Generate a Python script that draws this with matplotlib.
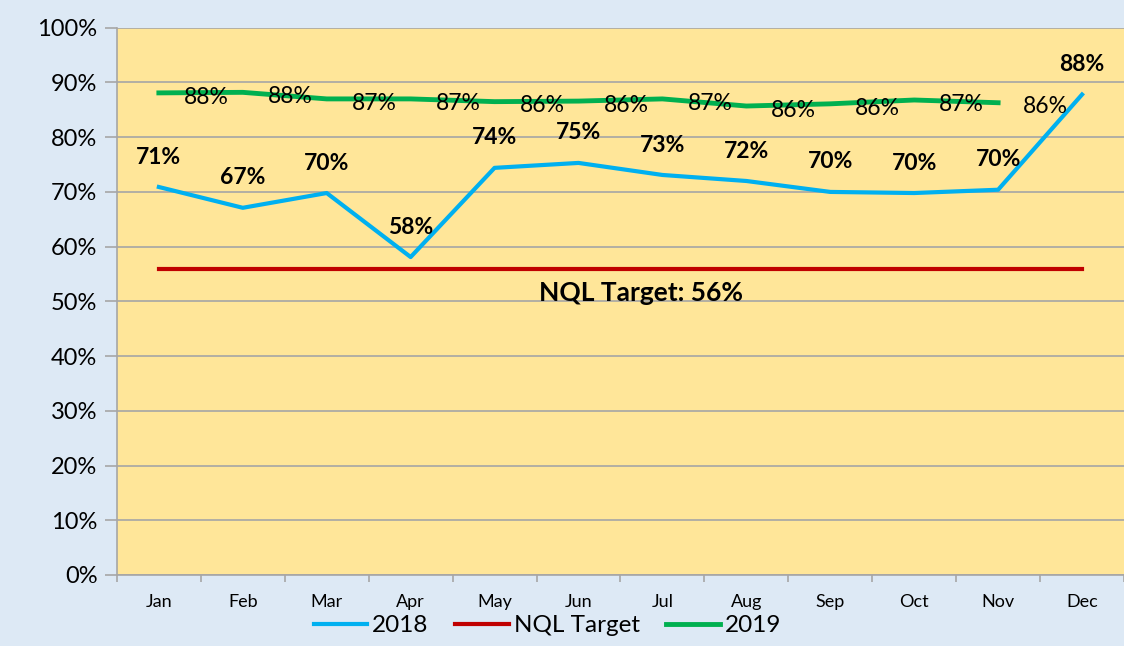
import matplotlib
matplotlib.use('Agg')
import matplotlib.pyplot as plt
import numpy as np

months = ['Jan', 'Feb', 'Mar', 'Apr', 'May', 'Jun', 'Jul', 'Aug', 'Sep', 'Oct', 'Nov', 'Dec']
vals_2018 = [70.9, 67.1, 69.8, 58.1, 74.4, 75.3, 73.1, 72.0, 70.0, 69.8, 70.4, 87.8]
labels_2018 = ['71%', '67%', '70%', '58%', '74%', '75%', '73%', '72%', '70%', '70%', '70%', '88%']
vals_2019 = [88.1, 88.2, 87.0, 87.0, 86.5, 86.6, 87.0, 85.7, 86.1, 86.8, 86.3]
labels_2019 = ['88%', '88%', '87%', '87%', '86%', '86%', '87%', '86%', '86%', '87%', '86%']
target = 56

plt.rcParams['font.family'] = ['Lato', 'DejaVu Sans']

fig = plt.figure(figsize=(11.24, 6.46), dpi=100, facecolor='#dde9f5')
ax = fig.add_axes([0.104, 0.110, 0.896, 0.847])
ax.set_facecolor('#ffe699')

x = np.arange(len(months))
ax.plot(x, vals_2018, color='#00b0f0', lw=3, label='2018', zorder=3)
ax.plot(x, [target] * len(months), color='#c00000', lw=3, label='NQL Target', zorder=3)
ax.plot(x[:len(vals_2019)], vals_2019, color='#00b050', lw=3.5, label='2019', zorder=3)

# 2018 labels above the points, 2019 labels to the right
for xi, v, t in zip(x, vals_2018, labels_2018):
    ax.annotate(t, (xi, v), xytext=(0, 14), textcoords='offset points',
                ha='center', va='bottom', fontsize=16.5, fontweight='bold', color='black')
for xi, v, t in zip(x, vals_2019, labels_2019):
    ax.annotate(t, (xi, v), xytext=(18, -3), textcoords='offset points',
                ha='left', va='center', fontsize=16.5, color='black')
ax.text(5.75, target - 2.2, 'NQL Target: 56%', ha='center', va='top',
        fontsize=19, fontweight='bold', color='black')

ax.set_xlim(-0.5, 11.5)
ax.set_ylim(0, 100)
ax.set_yticks(np.arange(0, 101, 10))
ax.set_yticklabels([f'{v}%' for v in range(0, 101, 10)], fontsize=17)
ax.yaxis.grid(True, color='#a6a6a6', lw=1.2)
ax.set_axisbelow(True)

ax.set_xticks(x)
ax.set_xticklabels(months, fontsize=13)
ax.set_xticks(np.arange(-0.5, 12, 1), minor=True)
ax.tick_params(axis='x', which='major', length=0, pad=14)
ax.tick_params(axis='x', which='minor', length=5, color='#a6a6a6', width=1.2)
ax.tick_params(axis='y', length=9, color='#a6a6a6', width=1.2, pad=5)

for s in ['top', 'right']:
    ax.spines[s].set_visible(False)
for s in ['left', 'bottom']:
    ax.spines[s].set_color('#a6a6a6')
    ax.spines[s].set_linewidth(1.2)

leg = fig.legend(loc='center', bbox_to_anchor=(0.487, 0.031), ncol=3, frameon=False,
                 fontsize=17.5, handlelength=2.2, handletextpad=0.2, columnspacing=1.1)

fig.savefig('out.png', dpi=100, facecolor=fig.get_facecolor())
